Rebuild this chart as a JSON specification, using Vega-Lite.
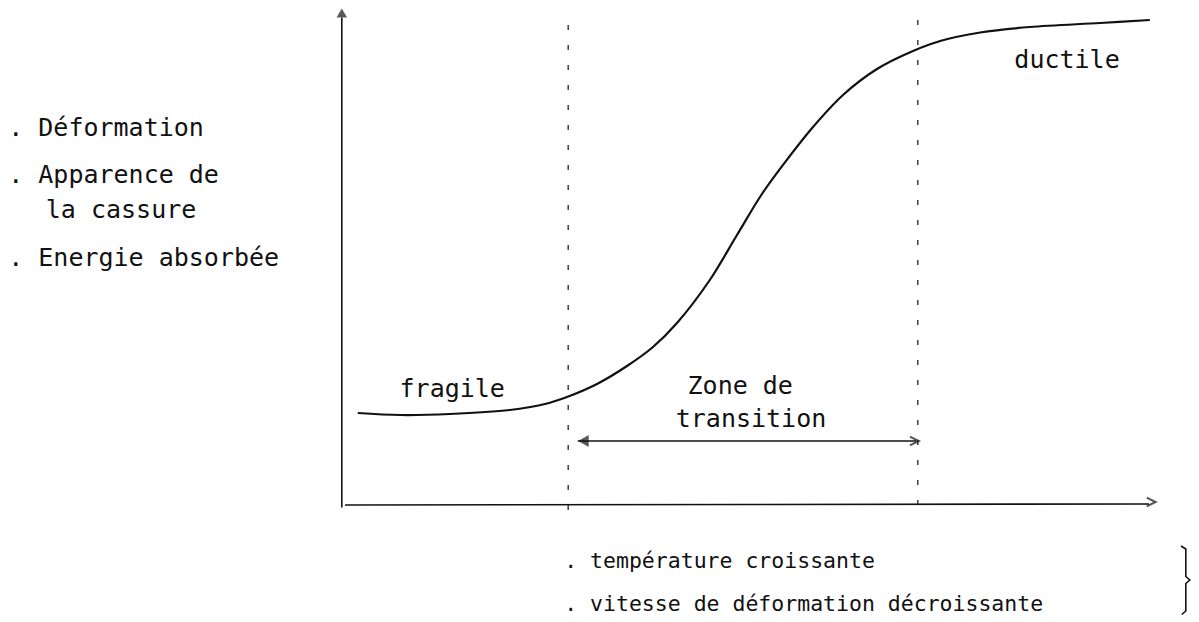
{
  "$schema": "https://vega.github.io/schema/vega-lite/v6.json",
  "width": 1199,
  "height": 622,
  "padding": 0,
  "autosize": {"type": "none"},
  "background": "white",
  "config": {"view": {"stroke": null}, "font": "DejaVu Sans Mono"},
  "datasets": {
    "curve": [
      {"x": 1.6, "y": 18.4}, {"x": 6.9, "y": 18.0}, {"x": 13.1, "y": 18.2}, {"x": 20.6, "y": 19.0},
      {"x": 25.0, "y": 20.2}, {"x": 27.75, "y": 21.6}, {"x": 31.5, "y": 24.2}, {"x": 35.25, "y": 27.8},
      {"x": 38.5, "y": 31.6}, {"x": 41.5, "y": 36.4}, {"x": 45.6, "y": 45.0}, {"x": 49.0, "y": 54.0},
      {"x": 52.2, "y": 62.4}, {"x": 55.6, "y": 69.8}, {"x": 58.5, "y": 75.6}, {"x": 62.25, "y": 82.0},
      {"x": 66.5, "y": 87.2}, {"x": 71.0, "y": 90.8}, {"x": 74.4, "y": 92.8}, {"x": 79.4, "y": 94.5},
      {"x": 85.6, "y": 95.6}, {"x": 94.4, "y": 96.4}, {"x": 100.6, "y": 97.0}
    ],
    "axes": [
      {"id": "yaxis", "o": 1, "x": -0.4, "y": -0.5}, {"id": "yaxis", "o": 2, "x": -0.4, "y": 97.5},
      {"id": "xaxis", "o": 1, "x": 0, "y": 0}, {"id": "xaxis", "o": 2, "x": 100.5, "y": 0.2},
      {"id": "arrow", "o": 1, "x": 29.1, "y": 12.8}, {"id": "arrow", "o": 2, "x": 71.4, "y": 12.8},
      {"id": "brace", "o": 1, "x": 104.5, "y": -8.2}, {"id": "brace", "o": 2, "x": 105.1, "y": -8.8},
      {"id": "brace", "o": 3, "x": 105.1, "y": -14.3}, {"id": "brace", "o": 4, "x": 105.6, "y": -15.0},
      {"id": "brace", "o": 5, "x": 105.1, "y": -15.7}, {"id": "brace", "o": 6, "x": 105.1, "y": -21.2},
      {"id": "brace", "o": 7, "x": 104.6, "y": -21.9}
    ],
    "limits": [
      {"id": "a", "o": 1, "x": 27.9, "y": -1}, {"id": "a", "o": 2, "x": 27.9, "y": 98},
      {"id": "b", "o": 1, "x": 71.6, "y": 0}, {"id": "b", "o": 2, "x": 71.6, "y": 98}
    ],
    "heads": [
      {"kind": "up", "x": -0.4, "y": 98.4},
      {"kind": "left", "x": 29.8, "y": 12.8},
      {"kind": "chevron", "x": 71.3, "y": 12.8},
      {"kind": "chevron", "x": 100.9, "y": 0.6}
    ],
    "labels": [
      {"text": "fragile", "x": 13.4, "y": 23.2},
      {"text": "ductile", "x": 90.25, "y": 89.0},
      {"text": "Zone de", "x": 49.4, "y": 23.8},
      {"text": "transition", "x": 50.75, "y": 17.2}
    ],
    "side": [
      {"text": ". Déformation", "x": -42.1, "y": 75.4},
      {"text": ". Apparence de", "x": -42.1, "y": 66.0},
      {"text": "la cassure", "x": -37.4, "y": 59.0},
      {"text": ". Energie absorbée", "x": -42.1, "y": 49.4}
    ],
    "bottom": [
      {"text": ". température croissante", "x": 27.4, "y": -11.4},
      {"text": ". vitesse de déformation décroissante", "x": 27.4, "y": -20.0}
    ]
  },
  "encoding": {
    "x": {"field": "x", "type": "quantitative", "scale": {"domain": [-43.125, 106.75], "nice": false, "zero": false}, "axis": null},
    "y": {"field": "y", "type": "quantitative", "scale": {"domain": [-23.4, 101], "nice": false, "zero": false}, "axis": null}
  },
  "layer": [
    {
      "data": {"name": "limits"},
      "mark": {"type": "line", "color": "#333", "strokeWidth": 1.4, "strokeDash": [5, 15]},
      "encoding": {"detail": {"field": "id"}, "order": {"field": "o"}}
    },
    {
      "data": {"name": "axes"},
      "mark": {"type": "line", "color": "#111", "strokeWidth": 1.6},
      "encoding": {"detail": {"field": "id"}, "order": {"field": "o"}}
    },
    {
      "data": {"name": "curve"},
      "mark": {"type": "line", "color": "#111", "strokeWidth": 2.2, "interpolate": "catmull-rom"}
    },
    {
      "data": {"name": "heads"},
      "transform": [{"filter": "datum.kind === 'up'"}],
      "mark": {"type": "point", "shape": "triangle-up", "filled": true, "color": "#111", "size": 110}
    },
    {
      "data": {"name": "heads"},
      "transform": [{"filter": "datum.kind === 'left'"}],
      "mark": {"type": "point", "shape": "triangle-left", "filled": true, "color": "#111", "size": 150}
    },
    {
      "data": {"name": "heads"},
      "transform": [{"filter": "datum.kind === 'chevron'"}],
      "mark": {"type": "point", "shape": "M-1,-0.8L0.6,0L-1,0.8", "filled": false, "color": "#111", "strokeWidth": 2.2, "size": 120}
    },
    {
      "data": {"name": "labels"},
      "mark": {"type": "text", "fontSize": 25, "color": "#111", "align": "center", "baseline": "middle"},
      "encoding": {"text": {"field": "text"}}
    },
    {
      "data": {"name": "side"},
      "mark": {"type": "text", "fontSize": 25, "color": "#111", "align": "left", "baseline": "middle"},
      "encoding": {"text": {"field": "text"}}
    },
    {
      "data": {"name": "bottom"},
      "mark": {"type": "text", "fontSize": 21.5, "color": "#111", "align": "left", "baseline": "middle"},
      "encoding": {"text": {"field": "text"}}
    }
  ]
}
